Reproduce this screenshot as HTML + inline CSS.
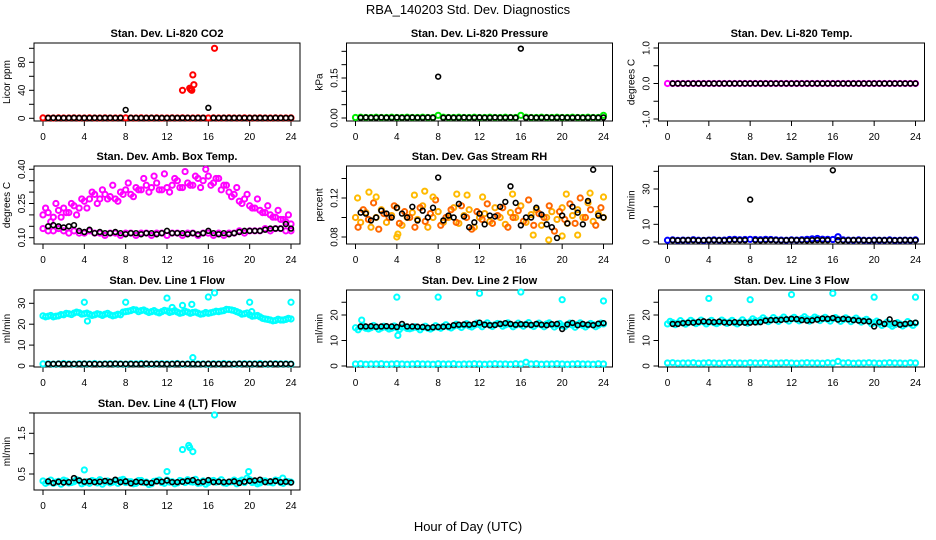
<!DOCTYPE html>
<html><head><meta charset="utf-8"><style>
html,body{margin:0;padding:0;background:#fff}
svg{display:block}
text{font-family:"Liberation Sans",Arial,sans-serif;fill:#000}
</style></head><body>
<svg id="chart" width="936" height="540" viewBox="0 0 936 540" xmlns="http://www.w3.org/2000/svg">
<rect width="936" height="540" fill="#fff"/>
<text x="468" y="14" font-size="13" text-anchor="middle">RBA_140203  Std. Dev. Diagnostics</text>
<text x="468" y="531" font-size="13" text-anchor="middle">Hour of Day (UTC)</text>
</svg>
<script>
const hourTicks = [0,4,8,12,16,20,24];
// P1 CO2
const co2Red = [0.6,0.5,0.4,0.6,0.5,0.5,0.7,0.4,0.5,0.6,0.5,0.4,0.6,0.5,0.5,0.7,0.6,0.5,0.4,0.6,0.5,0.5,0.6,0.4,0.5,0.6,0.5,0.7,0.5,0.4,0.6,0.5,0.5,0.6,0.4,0.5,0.6,0.5,0.5,0.7,0.4,0.5,0.6,0.5,0.4,0.6,0.5,0.5,0.6];
const co2RedOutX = [13.5,14.2,14.3,14.4,14.5,14.6,16.6];
const co2RedOutY = [40,43,41,40,62,48,100];
const co2Black = [0.5,0.6,0.5,0.4,0.5,0.6,0.5,0.5,0.4,0.6,0.5,0.5,0.6,0.4,0.5,12,0.6,0.5,0.4,0.5,0.6,0.5,0.5,0.4,0.6,0.5,0.5,0.6,0.4,0.5,0.6,15,0.5,0.4,0.6,0.5,0.5,0.6,0.4,0.5,0.6,0.5,0.5,0.4,0.6,0.5,0.5,0.6];
// P2 Pressure
const presGreen = [0.002,0.003,0.002,0.002,0.003,0.002,0.002,0.003,0.002,0.002,0.003,0.002,0.002,0.003,0.002,0.002,0.01,0.003,0.002,0.002,0.003,0.002,0.002,0.003,0.002,0.002,0.003,0.002,0.002,0.003,0.002,0.002,0.01,0.003,0.002,0.002,0.003,0.002,0.002,0.003,0.002,0.002,0.003,0.002,0.002,0.003,0.002,0.002,0.01];
const presBlack = [0.001,0.002,0.001,0.001,0.002,0.001,0.001,0.002,0.001,0.001,0.002,0.001,0.001,0.002,0.001,0.155,0.001,0.002,0.001,0.001,0.002,0.001,0.001,0.002,0.001,0.001,0.002,0.001,0.001,0.002,0.001,0.26,0.001,0.002,0.001,0.001,0.002,0.001,0.001,0.002,0.001,0.001,0.002,0.001,0.001,0.002,0.001,0.002];
// P3 Temp
const tempMag = [0,0,0,0,0,0,0,0,0,0,0,0,0,0,0,0,0,0,0,0,0,0,0,0,0,0,0,0,0,0,0,0,0,0,0,0,0,0,0,0,0,0,0,0,0,0,0,0,0];
const tempBlack = [0,0,0,0,0,0,0,0,0,0,0,0,0,0,0,0,0,0,0,0,0,0,0,0,0,0,0,0,0,0,0,0,0,0,0,0,0,0,0,0,0,0,0,0,0,0,0,0];
// P4 Amb box
const ambUp = [0.2,0.21,0.19,0.22,0.23,0.21,0.24,0.23,0.26,0.27,0.29,0.27,0.29,0.28,0.27,0.3,0.31,0.29,0.32,0.31,0.33,0.32,0.34,0.31,0.32,0.33,0.35,0.32,0.34,0.33,0.36,0.35,0.37,0.34,0.36,0.33,0.3,0.29,0.26,0.27,0.24,0.23,0.22,0.21,0.2,0.19,0.18,0.17,0.16];
const ambUp2 = [0.23,0.17,0.25,0.19,0.21,0.25,0.2,0.27,0.23,0.3,0.25,0.31,0.27,0.33,0.26,0.29,0.34,0.28,0.31,0.36,0.3,0.37,0.31,0.38,0.3,0.36,0.32,0.39,0.33,0.37,0.32,0.4,0.33,0.36,0.31,0.33,0.28,0.32,0.25,0.29,0.23,0.27,0.21,0.24,0.19,0.22,0.18,0.2];
const ambLow = [0.14,0.13,0.13,0.14,0.13,0.12,0.13,0.12,0.12,0.13,0.12,0.12,0.11,0.12,0.12,0.11,0.12,0.12,0.11,0.12,0.12,0.11,0.12,0.12,0.11,0.12,0.12,0.11,0.12,0.12,0.11,0.12,0.12,0.11,0.12,0.11,0.12,0.12,0.13,0.12,0.13,0.13,0.13,0.14,0.13,0.14,0.14,0.13,0.13];
const ambBlack = [0.15,0.155,0.15,0.145,0.15,0.155,0.13,0.125,0.135,0.12,0.125,0.12,0.12,0.125,0.12,0.115,0.12,0.12,0.115,0.12,0.12,0.115,0.12,0.13,0.12,0.12,0.12,0.115,0.12,0.115,0.12,0.13,0.12,0.115,0.12,0.115,0.12,0.125,0.13,0.13,0.13,0.13,0.135,0.14,0.14,0.14,0.16,0.14];
// P5 RH
const rhA = [0.1,0.095,0.105,0.09,0.1,0.108,0.095,0.102,0.11,0.092,0.1,0.105,0.098,0.112,0.09,0.1,0.106,0.095,0.1,0.11,0.094,0.102,0.108,0.09,0.1,0.104,0.096,0.11,0.1,0.093,0.105,0.1,0.112,0.095,0.103,0.108,0.092,0.1,0.106,0.098,0.11,0.094,0.102,0.108,0.1,0.115,0.096,0.104,0.1];
const rhB = [0.09,0.108,0.098,0.115,0.088,0.104,0.1,0.112,0.094,0.106,0.1,0.09,0.11,0.096,0.104,0.118,0.092,0.1,0.108,0.095,0.112,0.1,0.088,0.106,0.098,0.114,0.094,0.102,0.11,0.09,0.1,0.107,0.096,0.118,0.092,0.104,0.1,0.112,0.086,0.106,0.098,0.114,0.094,0.12,0.1,0.108,0.092,0.11];
const rhOutX = [0.2,1.3,2,4,4.1,5.7,6.7,7.5,9.8,10.8,12.3,15.2,17.2,18.7,20,20.4,21.5,22.7,24];
const rhOutY = [0.12,0.126,0.121,0.08,0.083,0.123,0.127,0.121,0.124,0.123,0.121,0.124,0.082,0.077,0.081,0.124,0.082,0.125,0.121];
const rhBlack = [0.105,0.104,0.097,0.1,0.107,0.104,0.1,0.11,0.104,0.1,0.111,0.097,0.107,0.1,0.11,0.141,0.097,0.102,0.1,0.114,0.101,0.09,0.095,0.104,0.093,0.102,0.101,0.111,0.116,0.132,0.115,0.092,0.1,0.1,0.11,0.103,0.093,0.09,0.079,0.102,0.094,0.111,0.105,0.093,0.117,0.149,0.102,0.1];
// P6 Sample flow
const sampBlue = [1,1.2,0.9,1.1,1,1.3,1,0.9,1.1,1.2,1,1.1,1.4,1.5,1.3,1.4,1.5,1.4,1.3,1.5,1.4,1.2,1.1,1,1.2,1.1,1.3,1.5,1.8,2,1.6,1.5,1.4,3,1.2,1.1,1,1.2,1,0.9,1.1,1,1,1.2,0.9,1,1.1,1,1.2];
const sampBlack = [1,0.9,1,1.1,1,0.9,1,1.1,1,1,0.9,1,1.1,1,1,24,1,0.9,1,1.1,1,0.9,1,1.1,1,1,0.9,1,1.1,1,1,40.6,1,0.9,1,1.1,1,1,0.9,1,1.1,1,1,0.9,1,1.1,1,1];
// P7 Line 1
const l1Band = [24,23.8,23.5,24,24.5,25,25.3,25.5,25,24.8,24.5,24.7,24.8,24.5,24.3,24.5,26,26.5,26.8,26.5,26.2,26,25.8,26,26.3,26,25.8,25.5,25.8,25.6,25.3,25,25.2,25.8,26,26.5,27,26.5,25.5,25,24.5,24,23.5,22.5,22,21.8,22,22.3,22.5];
const l1Band2 = [23.5,24.2,23.8,24.6,25.2,24.6,25.8,24.8,25.3,24.2,25,24.2,25.2,24,24.8,25.8,26.2,27,26,26.8,25.6,26.5,25.4,26.6,25.6,26.5,25.2,26.2,25.2,25.8,24.8,25.6,25.5,26.2,26.3,27.1,26.8,26,24.8,25.4,23.8,24.2,22.8,22.3,21.6,22.4,22,22.8];
const l1Low = [1,1.1,0.9,1,1.2,1,0.9,1.1,1,1,1.2,0.9,1,1.1,1,1,0.9,1.1,1,1.2,1,0.9,1,1.1,1,1,1.2,0.9,1,1.1,1,1,0.9,1.1,1,1.2,1,0.9,1,1.1,1,1,1.2,0.9,1,1.1,1,1,0.9];
const l1Black = [1,1,1.1,1,0.9,1,1,1.1,1,1,0.9,1,1,1.1,1,1,1,0.9,1,1.1,1,1,1,0.9,1,1.1,1,1,1,0.9,1,1.1,1,1,1,0.9,1,1.1,1,1,1,0.9,1,1.1,1,1,1,1];
const l1OutX = [4,4.3,8,12,12.5,13.5,14.4,14.5,16,16.6,20,20.2,24];
const l1OutY = [30.5,21.5,30.5,32.5,28,29,29.5,4,33,35,30.5,26,30.5];
// P8 Line 2
const l2Band = [15,15.2,14.8,15,15.3,14.9,15.1,14.8,15,15.2,14.7,14.9,15,15.1,14.8,15,15.2,15.5,15.3,15.6,15.8,16,15.7,16,16.2,16.3,16,16.2,16.5,16.1,16.3,16,16.2,16.4,16,16.3,16.1,16.5,16.2,16,15.8,16.2,16,16.3,15.9,16.1,16.2,16,16.5];
const l2Band2 = [14.2,15.8,14.6,15.9,14.4,15.6,14.5,15.7,14.3,15.5,14.6,15.4,14.2,15.6,14.5,15.8,14.8,16.2,14.9,16.4,15.1,16.6,15.3,16.8,15.4,16.9,15.5,16.7,15.6,16.9,15.4,16.8,15.6,17,15.5,16.8,15.4,16.9,15.3,16.7,15.4,16.8,15.2,16.9,15.3,16.7,15.4,16.8];
const l2Low = [0.8,0.9,0.7,0.8,0.8,0.9,0.7,0.8,0.9,0.8,0.7,0.8,0.9,0.8,0.8,0.7,0.9,0.8,0.8,0.9,0.7,0.8,0.8,0.9,0.8,0.7,0.8,0.9,0.8,0.8,0.7,0.9,0.8,1.5,0.8,0.9,0.7,0.8,0.8,0.9,0.8,0.7,0.8,0.9,0.8,0.8,0.7,0.9,0.8];
const l2Black = [15.5,15.5,15.6,15.4,15.5,15.6,15.5,15.3,16.5,15.5,15.5,15.4,15.3,15,15.2,15.3,15.4,15.5,16,16.2,16.3,16.2,16.5,17,16.2,16,16.1,16.5,16.8,16.5,16.2,16.4,16.3,16.1,16.5,16.2,16,16.4,16.5,14.5,16.3,16.9,16,16.5,16.2,16,16.6,16.8];
const l2OutX = [0.6,4,4.1,8,12,16,20,24];
const l2OutY = [18,27,12,27,28.5,29,26,25.5];
// P9 Line 3
const l3Band = [16.5,17,16.8,16.9,17,17.2,17.1,17.3,17.2,17,17.1,17.3,17.2,17,17.2,17.1,17.4,17.8,18,18.1,18,18.2,18.4,18.2,18.5,18.3,18.6,18.5,18.4,18.7,18.5,18.3,18.6,18.4,18.2,18.3,18.1,18,17.8,17.5,17,16.8,16.5,16.3,16.2,16.5,16.3,16.6,16.8];
const l3Band2 = [17.5,16.2,17.8,16.4,17.9,16.6,18,16.5,17.9,16.6,18,16.7,17.9,16.5,18.1,16.8,18.5,17.3,18.9,17.4,19,17.5,19.2,17.6,19.1,17.7,19.3,17.6,19.2,17.8,19.1,17.6,19,17.5,18.9,17.4,18.8,17.2,18.3,16.5,17.6,15.9,17.2,15.6,17,15.7,17.4,15.9];
const l3Low = [1.2,1.3,1.1,1.2,1.2,1.3,1.1,1.2,1.3,1.2,1.1,1.2,1.3,1.2,1.2,1.1,1.3,1.2,1.2,1.3,1.1,1.2,1.2,1.3,1.2,1.1,1.2,1.3,1.2,1.2,1.1,1.3,1.2,1.8,1.2,1.3,1.1,1.2,1.2,1.3,1.2,1.1,1.2,1.3,1.2,1.2,1.1,1.3,1.2];
const l3Black = [16.5,16.5,16.8,17,17,17.3,17.5,17.3,17.2,17.4,17.1,17,17.2,17,17,17,17.1,17.2,17.8,18,18,18.1,18.3,18.5,18.4,18,17.8,17.9,18.2,18.6,18.5,18.8,18.2,18.5,18.3,18,17.8,17.6,17.5,15.5,17.2,16.5,18.3,16.8,16.2,16.5,16.8,17];
const l3OutX = [4,8,12,16,20,24];
const l3OutY = [26.5,26,28,28.5,27,27];
// P10 Line 4
const l4Band = [0.33,0.3,0.27,0.32,0.35,0.28,0.31,0.34,0.29,0.27,0.32,0.36,0.3,0.28,0.33,0.35,0.29,0.31,0.27,0.34,0.3,0.26,0.33,0.29,0.35,0.31,0.28,0.32,0.36,0.3,0.27,0.33,0.29,0.34,0.31,0.28,0.3,0.35,0.32,0.29,0.36,0.31,0.28,0.33,0.3,0.35,0.29,0.32,0.3];
const l4Band2 = [0.27,0.35,0.3,0.25,0.33,0.29,0.36,0.26,0.31,0.34,0.28,0.25,0.33,0.3,0.27,0.37,0.31,0.26,0.34,0.29,0.24,0.32,0.35,0.27,0.3,0.26,0.34,0.29,0.31,0.37,0.28,0.25,0.33,0.3,0.36,0.27,0.31,0.26,0.35,0.4,0.29,0.26,0.33,0.3,0.28,0.34,0.27,0.31];
const l4Black = [0.32,0.28,0.31,0.29,0.3,0.4,0.34,0.31,0.32,0.3,0.31,0.33,0.31,0.36,0.3,0.32,0.27,0.31,0.3,0.29,0.28,0.32,0.31,0.34,0.3,0.3,0.31,0.33,0.35,0.3,0.31,0.35,0.3,0.31,0.3,0.31,0.32,0.28,0.31,0.33,0.34,0.36,0.3,0.32,0.33,0.3,0.31,0.29];
const l4OutX = [4,12,13.5,14.1,14.2,14.5,16.6,19.9,23.2];
const l4OutY = [0.6,0.56,1.1,1.2,1.15,1.05,1.95,0.56,0.4];

const NS = 'http://www.w3.org/2000/svg';
const svg = document.getElementById('chart');
const COLX0 = [43, 355.5, 667.5];
const HOURPX = 248 / 24;
const ROWTOP = [43, 166, 290, 413];
const ROWBOT = [121, 244, 367, 490];

function mk(tag, attrs, parent) {
  const el = document.createElementNS(NS, tag);
  for (const k in attrs) el.setAttribute(k, attrs[k]);
  parent.appendChild(el);
  return el;
}

function panel(key, col, row, title, ylab, ref, ticks, labels) {
  const g = mk('g', {}, svg);
  
  
  const x0 = COLX0[col];
  const xs = h => x0 + h * HOURPX;
  const k = (ref[3] - ref[1]) / (ref[2] - ref[0]);
  const ys = v => ref[1] + (v - ref[0]) * k;
  const L = x0 - 9, R = x0 + 248 + 9, T = ROWTOP[row], B = ROWBOT[row];
  const box = mk('rect', {x: L, y: T, width: R - L, height: B - T, fill: 'none', stroke: '#000', 'stroke-width': 1}, g);
  
  
  const t = mk('text', {x: (L + R) / 2, y: T - 6, 'font-size': 11, 'font-weight': 'bold', 'text-anchor': 'middle'}, g);
  t.textContent = title;
  
  
  const yl = mk('text', {x: 0, y: 0, 'font-size': 10, 'text-anchor': 'middle', transform: `translate(${L - 24},${(T + B) / 2}) rotate(-90)`}, g);
  yl.textContent = ylab;
  
  
  hourTicks.forEach(h => {
    const tk = mk('line', {x1: xs(h), x2: xs(h), y1: B, y2: B + 5, stroke: '#000'}, g);
    
    
    const tl = mk('text', {x: xs(h), y: B + 19, 'font-size': 10, 'text-anchor': 'middle'}, g);
    tl.textContent = h;
    
    
  });
  ticks.forEach(v => {
    const tk = mk('line', {x1: L - 5, x2: L, y1: ys(v), y2: ys(v), stroke: '#000'}, g);
    
    
  });
  labels.forEach(lb => {
    const tl = mk('text', {x: 0, y: 0, 'font-size': 10, 'text-anchor': 'middle', transform: `translate(${L - 9},${ys(parseFloat(lb))}) rotate(-90)`}, g);
    tl.textContent = lb;
    
    
  });
  return {g, xs, ys, key};
}

function dot(p, parent, h, v, color) {
  const black = color === '#000';
  const c = mk('circle', {cx: p.xs(h), cy: p.ys(v), r: black ? 2.4 : 2.6, fill: 'none', stroke: color, 'stroke-width': black ? 1.6 : 2}, parent);
  
  
}
function series(p, name, values, start, color) {
  const sg = mk('g', {}, p.g);
  
  
  values.forEach((v, i) => dot(p, sg, start + i * 0.5, v, color));
}
function scatter(p, name, xv, yv, color) {
  const sg = mk('g', {}, p.g);
  
  
  xv.forEach((h, i) => dot(p, sg, h, yv[i], color));
}

const RED = '#ff0000', BLK = '#000', GRN = '#00ee00', MAG = '#ff00ff', BLU = '#0000ff', CYN = '#00ffff';

let p = panel('co2', 0, 0, 'Stan. Dev. Li-820 CO2', 'Licor ppm', [0, 118.3, 80, 62.3], [0,20,40,60,80,100], ['0','40','80']);
series(p, 'red-series', co2Red, 0, RED);
scatter(p, 'red-outliers', co2RedOutX, co2RedOutY, RED);
series(p, 'black-series', co2Black, 0.5, BLK);

p = panel('pressure', 1, 0, 'Stan. Dev. Li-820 Pressure', 'kPa', [0, 118, 0.15, 78], [0,0.05,0.1,0.15,0.2,0.25], ['0.00','0.15']);
series(p, 'green-series', presGreen, 0, GRN);
series(p, 'black-series', presBlack, 0.5, BLK);

p = panel('temp', 2, 0, 'Stan. Dev. Li-820 Temp.', 'degrees C', [-1, 119, 1, 48], [-1,-0.5,0,0.5,1], ['-1.0','0.0','1.0']);
series(p, 'magenta-series', tempMag, 0, MAG);
series(p, 'black-series', tempBlack, 0.5, BLK);

p = panel('ambbox', 0, 1, 'Stan. Dev. Amb. Box Temp.', 'degrees C', [0.1, 237.7, 0.4, 169.3], [0.1,0.15,0.2,0.25,0.3,0.35,0.4], ['0.10','0.25','0.40']);
series(p, 'magenta-upper', ambUp, 0, MAG);
series(p, 'magenta-upper-2', ambUp2, 0.25, MAG);
series(p, 'magenta-lower', ambLow, 0, MAG);
series(p, 'black-series', ambBlack, 0.5, BLK);

p = panel('rh', 1, 1, 'Stan. Dev. Gas Stream RH', 'percent', [0.08, 237, 0.12, 198], [0.08,0.1,0.12,0.14], ['0.08','0.12']);
series(p, 'orange-series', rhA, 0, '#ffaa00');
series(p, 'red-orange-series', rhB, 0.25, '#ff6600');
scatter(p, 'orange-outliers', rhOutX, rhOutY, '#ffbb00');
series(p, 'black-series', rhBlack, 0.5, BLK);

p = panel('sampleflow', 2, 1, 'Stan. Dev. Sample Flow', 'ml/min', [0, 242, 30, 189], [0,10,20,30,40], ['0','10','30']);
series(p, 'blue-series', sampBlue, 0, BLU);
series(p, 'black-series', sampBlack, 0.5, BLK);

p = panel('line1', 0, 2, 'Stan. Dev. Line 1 Flow', 'ml/min', [0, 366, 30, 303.3], [0,10,20,30], ['0','10','20','30']);
series(p, 'cyan-band', l1Band, 0, CYN);
series(p, 'cyan-band-2', l1Band2, 0.25, CYN);
series(p, 'cyan-low', l1Low, 0, CYN);
scatter(p, 'cyan-outliers', l1OutX, l1OutY, CYN);
series(p, 'black-series', l1Black, 0.5, BLK);

p = panel('line2', 1, 2, 'Stan. Dev. Line 2 Flow', 'ml/min', [0, 366, 20, 315], [0,10,20,25], ['0','10','20']);
series(p, 'cyan-band', l2Band, 0, CYN);
series(p, 'cyan-band-2', l2Band2, 0.25, CYN);
series(p, 'cyan-low', l2Low, 0, CYN);
scatter(p, 'cyan-outliers', l2OutX, l2OutY, CYN);
series(p, 'black-series', l2Black, 0.5, BLK);

p = panel('line3', 2, 2, 'Stan. Dev. Line 3 Flow', 'ml/min', [0, 366, 20, 315], [0,10,20,25], ['0','10','20']);
series(p, 'cyan-band', l3Band, 0, CYN);
series(p, 'cyan-band-2', l3Band2, 0.25, CYN);
series(p, 'cyan-low', l3Low, 0, CYN);
scatter(p, 'cyan-outliers', l3OutX, l3OutY, CYN);
series(p, 'black-series', l3Black, 0.5, BLK);

p = panel('line4', 0, 3, 'Stan. Dev. Line 4 (LT) Flow', 'ml/min', [0.5, 474, 1.5, 433.3], [0.5,1,1.5,2], ['0.5','1.5']);
series(p, 'cyan-band', l4Band, 0, CYN);
series(p, 'cyan-band-2', l4Band2, 0.25, CYN);
scatter(p, 'cyan-outliers', l4OutX, l4OutY, CYN);
series(p, 'black-series', l4Black, 0.5, BLK);
</script>
</body></html>
